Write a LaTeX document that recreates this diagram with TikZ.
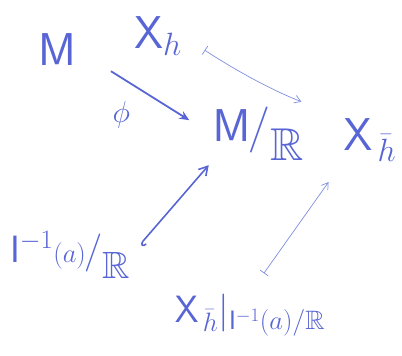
\documentclass[tikz,border=0pt]{standalone}
\usepackage{fix-cm}
\usepackage{amssymb}
\usepackage{xcolor}
\definecolor{cInk}{HTML}{5865D4}
\definecolor{cThin}{HTML}{7F8DE0}
\usetikzlibrary{arrows.meta}
\newcommand\quotR{\mkern-1mu/\lower.42em\hbox{$\mathbb{R}$}}
\tikzset{
  node-obj/.style={text=cInk,inner sep=1pt,font=\fontsize{46}{52}\selectfont},
  node-small/.style={font=\fontsize{38}{44}\selectfont},
  arrow/.style={-{Stealth[length=3.5mm,width=3mm]},line width=1.8pt,draw=cInk},
  arrow-hook/.style={{Hooks[left,length=1.5mm,width=3.5mm]}-{Straight Barb[length=3mm,width=3.5mm]},line width=1.6pt,draw=cInk},
  arrow-map/.style={{Bar[width=3.5mm]}-{Straight Barb[length=2.2mm,width=2.8mm]},line width=0.7pt,draw=cThin},
}

\begin{document}
\begin{tikzpicture}[x=1pt,y=-1pt]
  \useasboundingbox (0,0) rectangle (402,356);
  \node[node-obj] (M) at (57,50) {$\mathsf{M}$};
  \node[node-obj] (Xh) at (158,36) {$\mathsf{X}_{h}$};
  \node[node-obj] (MR) at (258,134) {$\mathsf{M}\quotR$};
  \node[node-obj] (Xbh) at (370,140) {$\mathsf{X}_{\mkern3mu\bar h}$};
  \node[node-obj,node-small] (IR) at (70,255) {$\mathsf{I}^{-1}{\scriptstyle(a)}\quotR$};
  \node[node-obj,node-small] (Xres) at (250,315) {$\mathsf{X}_{\mkern3mu\bar h}|_{\mathsf{I}^{-1}(a)/\mathbb{R}}$};
  \draw[arrow,shorten <=40pt,shorten >=26pt] (M.east) -- (MR.west)
    node[pos=0.33,below=20pt,text=cInk,font=\fontsize{30}{32}\selectfont] (phi) {$\phi$};
  \draw[arrow-map,shorten <=26pt,shorten >=44pt] (Xh.east) to[bend right=6] (Xbh.north west);
  \draw[arrow-hook,shorten <=14pt,shorten >=4pt] (IR.east) -- (MR.south west);
  \draw[arrow-map,shorten <=24pt,shorten >=24pt] (Xres.north) -- (Xbh.south west);
\end{tikzpicture}
\end{document}
